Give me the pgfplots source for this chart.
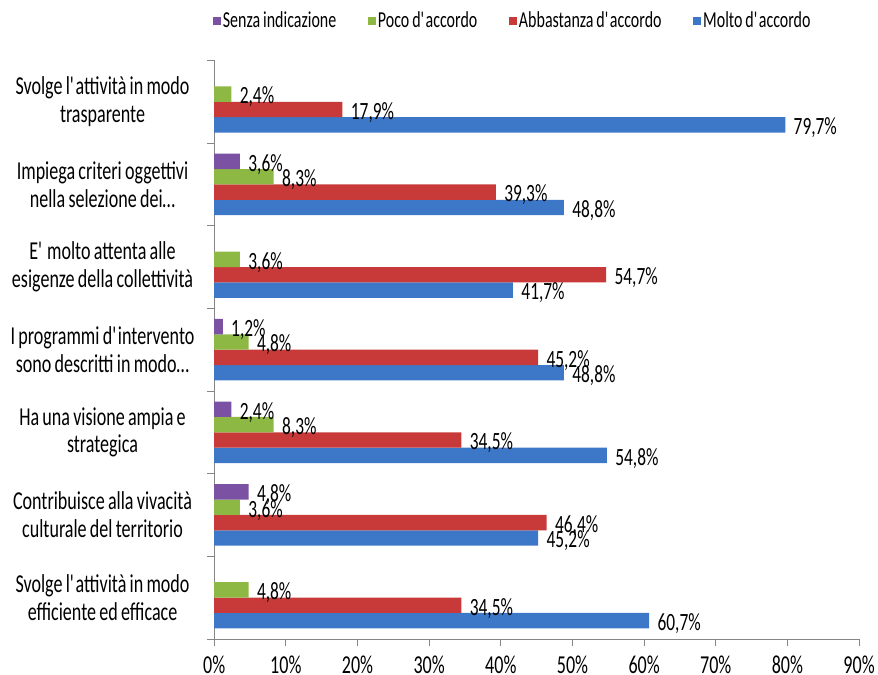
\documentclass[border=0pt]{standalone}
\usepackage{pgfplots}
\pgfplotsset{compat=1.18}
\usepackage{fontspec}
\setmainfont{Carlito}[FakeStretch=0.7, WordSpace=0.8]
\definecolor{cpurple}{HTML}{7B52A3}
\definecolor{cgreen}{HTML}{8DB844}
\definecolor{cred}{HTML}{C83A3A}
\definecolor{cblue}{HTML}{3D78C8}
\definecolor{caxis}{HTML}{868686}
\newcommand{\q}{\textquotesingle}
\begin{document}
\begin{tikzpicture}
\begin{axis}[
  scale only axis, width=650pt, height=583pt,
  xbar=0pt, bar width=15.5pt,
  xmin=0, xmax=90, ymin=-0.5, ymax=6.5, y dir=reverse,
  axis x line*=bottom, axis y line*=left,
  axis line style={caxis, line width=0.8pt},
  tick style={caxis, line width=0.8pt},
  tick align=outside,
  major tick length=7pt, minor tick length=7pt,
  xtick={0,10,...,90},
  xticklabel={\pgfmathprintnumber{\tick}\%},
  xticklabel style={font=\fontsize{26}{30}\selectfont, yshift=-9pt, inner ysep=1pt, text depth=0pt},
  /pgf/number format/assume math mode=true,
  ytick={0,...,6},
  major y tick style={draw=none},
  minor ytick={-0.5,0.5,...,6.5},
  yticklabels={
    {Svolge l\q attività in modo\\trasparente},
    {Impiega criteri oggettivi\\nella selezione dei\ldots},
    {E\q{} molto attenta alle\\esigenze della collettività},
    {I programmi d\q intervento\\sono descritti in modo\ldots},
    {Ha una visione ampia e\\strategica},
    {Contribuisce alla vivacità\\culturale del territorio},
    {Svolge l\q attività in modo\\efficiente ed efficace}},
  yticklabel style={font=\fontsize{26}{28}\selectfont, text width=200pt, align=flush center, xshift=-2pt},
  nodes near coords={\pgfmathprintnumber[fixed,fixed zerofill,precision=1,use comma]{\pgfplotspointmeta}\%},
  every node near coord/.append style={anchor=west, font=\fontsize{25}{28}\selectfont, yshift=-3pt, xshift=5pt, black},
  legend columns=4,
  reverse legend,
  legend style={draw=none, at={(0.463,1.069)}, anchor=center, font=\fontsize{23}{26}\selectfont,
    inner ysep=10pt,
    /tikz/every even column/.append style={column sep=30pt}},
  legend image code/.code={\draw[#1,draw=none] (0pt,-4pt) rectangle (8pt,4pt);},
]
\addplot[fill=cblue, draw=none] coordinates {(79.7,0) (48.8,1) (41.7,2) (48.8,3) (54.8,4) (45.2,5) (60.7,6)};
\addplot[fill=cred, draw=none] coordinates {(17.9,0) (39.3,1) (54.7,2) (45.2,3) (34.5,4) (46.4,5) (34.5,6)};
\addplot[fill=cgreen, draw=none] coordinates {(2.4,0) (8.3,1) (3.6,2) (4.8,3) (8.3,4) (3.6,5) (4.8,6)};
\addplot[fill=cpurple, draw=none] coordinates {(3.6,1) (1.2,3) (2.4,4) (4.8,5)};
\legend{Molto d\q accordo, Abbastanza d\q accordo, Poco d\q accordo, Senza indicazione}
\end{axis}
\end{tikzpicture}
\end{document}
